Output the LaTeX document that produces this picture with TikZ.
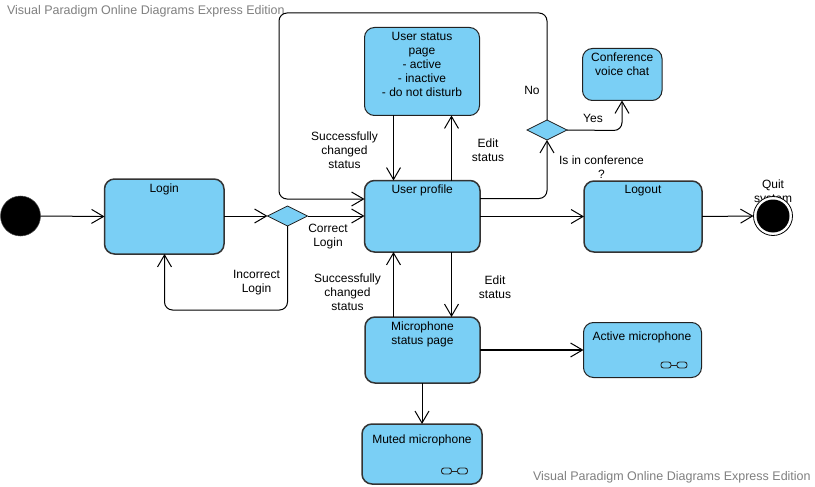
\documentclass[tikz,border=0pt]{standalone}
\usepackage{fontspec}
\setmainfont{Liberation Sans}
\usetikzlibrary{arrows.meta,calc,shapes.geometric}
\definecolor{boxblue}{HTML}{7ACFF5}
\definecolor{wmgray}{HTML}{808080}
\definecolor{edgedark}{HTML}{222222}
\tikzset{
  x=1pt,y=-1pt,
  statebox/.style={draw=edgedark,fill=boxblue,line width=1pt,rounded corners=10pt,inner sep=0pt,outer sep=0pt},
  thickbox/.style={statebox,line width=1.5pt,draw=black!80},
  boxtext/.style={anchor=north,inner sep=0pt,outer sep=0pt,align=center,font=\fontsize{12}{14}\selectfont},
  lbl/.style={inner sep=0pt,outer sep=0pt,align=center,font=\fontsize{12}{14}\selectfont},
  wm/.style={inner sep=0pt,outer sep=0pt,anchor=west,text=wmgray,font=\fontsize{12.5}{14}\selectfont},
  decision/.style={diamond,draw=edgedark,fill=boxblue,line width=.8pt,inner sep=0pt,outer sep=0pt,minimum width=40pt,minimum height=20pt,aspect=2},
  flow/.style={draw=black,line width=1pt,rounded corners=8pt,-{Straight Barb[length=12pt,width=14pt,line width=1pt]}},
  eye/.style={draw=black!85,line width=.9pt,rounded corners=2.5pt,minimum width=10pt,minimum height=6pt,inner sep=0pt,outer sep=0pt},
  eyelink/.style={draw=black!85,line width=.9pt},
}
\newcommand{\statenode}[7][statebox]{%
  \node[#1,minimum width=#4pt-#2pt,minimum height=#5pt-#3pt] (#6) at ({(#2+#4)/2},{(#3+#5)/2}) {};
  \node[boxtext] (#6-text) at ([yshift=-4.5pt]#6.north) {#7};
}
\begin{document}
\begin{tikzpicture}
\useasboundingbox (0,0) rectangle (815,487);
\fill[white] (0,0) rectangle (815,487);
\node[wm] (wmtop) at (7,11) {Visual Paradigm Online Diagrams Express Edition};
\node[wm] (wmbot) at (533,477) {Visual Paradigm Online Diagrams Express Edition};

\node[lbl] (quit) at (773,192) {Quit\\system};

\statenode{364.5}{27.5}{479.5}{115.5}{ustatus}{User status\\page\\- active\\- inactive\\- do not disturb}
\statenode[thickbox]{364.5}{180.5}{480}{252}{profile}{User profile}
\statenode[thickbox]{104.5}{179}{224}{254}{login}{Login}
\statenode[thickbox]{584}{181}{702}{252}{logout}{Logout}
\statenode{582.5}{48.5}{662}{100.5}{conf}{Conference\\voice chat}
\statenode[thickbox]{365}{317}{480}{383}{mic}{Microphone\\status page}
\statenode{583.5}{322.5}{701.5}{377.5}{active}{}
\node[boxtext] (active-label) at (642,332) {Active microphone};
\statenode[thickbox]{362}{424}{482}{484}{muted}{}
\node[boxtext] (muted-label) at (422,434.5) {Muted microphone};

\node[decision] (d1) at (287.5,216) {};
\node[decision] (d2) at (547,130) {};

\node[circle,fill=black,draw=black!70,line width=.5pt,minimum size=40pt,inner sep=0pt,outer sep=0pt] (start) at (20.5,216) {};
\node[circle,draw=black,fill=white,line width=.8pt,minimum size=39pt,inner sep=0pt,outer sep=0pt] (end) at (773,216) {};
\node[circle,fill=black,minimum size=33pt,inner sep=0pt] (endin) at (end.center) {};

% guide coordinates
\coordinate (xs) at (393.5,0);
\coordinate (xe) at (451.5,0);
\coordinate (yr) at (0,198.5);
\coordinate (lpTR) at (547,13);
\coordinate (lpTL) at (279,13);
\coordinate (lpBL) at (279,199);
\coordinate (incB) at (287.5,310);
\coordinate (incL) at (164.5,310);
\coordinate (yesC) at (622,130.5);
\coordinate (prR) at (547,198.5);

\draw[flow] (start.east) -- (login.west);
\draw[flow] (login.east |- d1.west) -- (d1.west);
\draw[flow] (d1.east) -- (profile.west |- d1.east);
\draw[flow] (d1.south) -- (incB) -- (incL) -- (incL |- login.south);
\draw[flow] (d2.north) -- (lpTR) -- (lpTL) -- (lpBL) -- (profile.west |- lpBL);
\draw[flow] (profile.east |- yr) -- (prR) -- (d2.south);
\draw[flow] (d2.east) -- (yesC) -- (yesC |- conf.south);
\draw[flow] (ustatus.south -| xs) -- (profile.north -| xs);
\draw[flow] (profile.north -| xe) -- (ustatus.south -| xe);
\draw[flow] (profile.south -| xe) -- (mic.north -| xe);
\draw[flow] (mic.north -| xs) -- (profile.south -| xs);
\draw[flow] (profile.east |- logout.west) -- (logout.west);
\draw[flow] (logout.east) -- (end.west);
\draw[flow,line width=1.6pt] (mic.east |- active.west) -- (active.west);
\draw[flow] (mic.south -| muted.north) -- (muted.north);

\node[lbl] (l1) at (344.5,150) {Successfully\\changed\\status};
\node[lbl] (l2) at (488,150) {Edit\\status};
\node[lbl] (l3) at (532,90.5) {No};
\node[lbl] (l4) at (593,118) {Yes};
\node[lbl] (l5) at (601.5,167.5) {Is in conference\\?};
\node[lbl] (l6) at (328,236.5) {Correct\\Login};
\node[lbl] (l7) at (256.5,283) {Incorrect\\Login};
\node[lbl] (l8) at (347.5,292) {Successfully\\changed\\status};
\node[lbl] (l9) at (495,287) {Edit\\status};

% glasses icons
\foreach \n/\cx/\cy in {a/674/365,m/454.5/471}{
  \node[eye] (\n1) at (\cx-8,\cy) {};
  \node[eye] (\n2) at (\cx+8,\cy) {};
  \draw[eyelink] (\n1) -- (\n2);
}
\end{tikzpicture}
\end{document}
